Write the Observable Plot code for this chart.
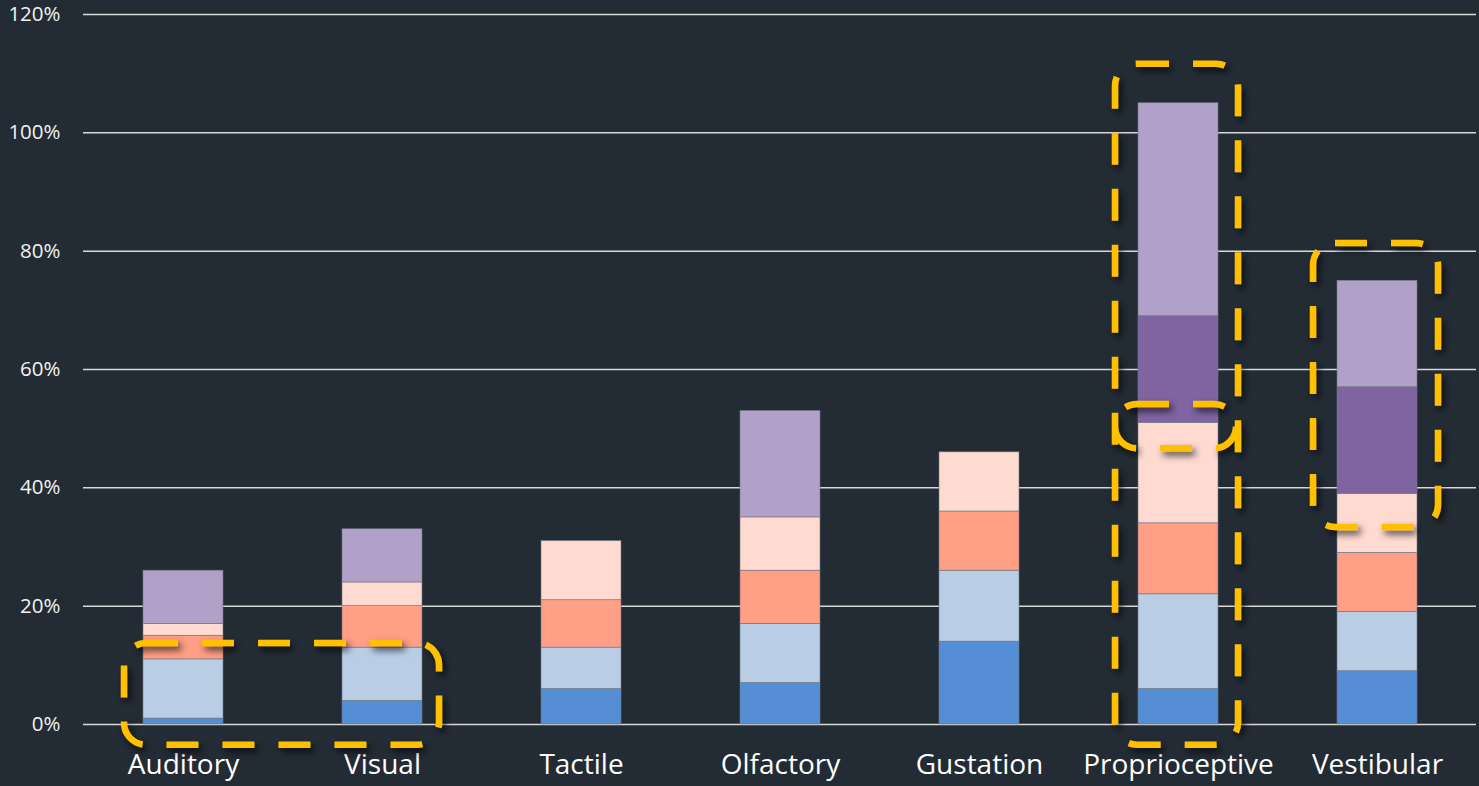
<!DOCTYPE html>
<html><head><meta charset="utf-8">
<script src="https://cdn.jsdelivr.net/npm/d3@7"></script>
<script src="https://cdn.jsdelivr.net/npm/@observablehq/plot@0.6"></script>
<style>
html,body{margin:0;padding:0;background:#232b34;overflow:hidden;}
</style></head><body><div id="chart"></div>
<script>
const categories = ["Auditory","Visual","Tactile","Olfactory","Gustation","Proprioceptive","Vestibular"];
const seriesNames = ["Series 1","Series 2","Series 3","Series 4","Series 5","Series 6"];
const series1 = [1, 4, 6, 7, 14, 6, 9];
const series2 = [10, 9, 7, 10, 12, 16, 10];
const series3 = [4, 7, 8, 9, 10, 12, 10];
const series4 = [2, 4, 10, 9, 10, 17, 10];
const series5 = [0, 0, 0, 0, 0, 18, 18];
const series6 = [9, 9, 0, 18, 0, 36, 18];
const yTicks = [0, 20, 40, 60, 80, 100, 120];
// highlight boxes (data units: categories and % values)
const highlightFrom = ["Auditory", "Proprioceptive", "Proprioceptive", "Vestibular"];
const highlightTo = ["Visual", "Proprioceptive", "Proprioceptive", "Vestibular"];
const highlightTop = [13.7, 111.6, 54.1, 81.3];
const highlightBottom = [-3.5, -3.5, 46.6, 33.3];

const colors = ["#558ed5","#b9cde5","#ff9f85","#fedad1","#8064a2","#b1a0c7"];
const seriesValues = [series1, series2, series3, series4, series5, series6];
const rows = [];
seriesNames.forEach((s, i) => categories.forEach((c, j) => {
  if (seriesValues[i][j] > 0) rows.push({category: c, series: s, value: seriesValues[i][j]});
}));

const chart = Plot.plot({
  width: 1479, height: 786,
  marginLeft: 83, marginRight: 3, marginTop: 14, marginBottom: 62,
  style: {background: "#232b34", color: "#ffffff", fontFamily: "'Open Sans', Lato, sans-serif"},
  x: {domain: categories, paddingInner: 0.6, paddingOuter: 0.3, label: null},
  y: {domain: [0, 120], label: null},
  color: {domain: seriesNames, range: colors},
  marks: [
    Plot.ruleY(yTicks, {stroke: "#d9d9d9", strokeWidth: 1.5}),
    Plot.barY(rows, {x: "category", y: "value", fill: "series", stroke: "#6f7884", strokeWidth: 0.6}),
    Plot.axisY({ticks: yTicks, tickFormat: d => d + "%", tickSize: 0, tickPadding: 23, fontSize: 20.5, label: null, fill: "#f2f2f2"}),
    Plot.axisX({tickSize: 0, tickPadding: 30, fontSize: 28, label: null, fill: "#ffffff"})
  ]
});
document.getElementById("chart").appendChild(chart);

const xs = chart.scale("x"), ys = chart.scale("y");
const bw = xs.bandwidth;
const svg = d3.select(chart);
svg.append("defs").append("filter").attr("id", "shadow")
  .attr("x", "-20%").attr("y", "-20%").attr("width", "140%").attr("height", "140%")
  .append("feDropShadow").attr("dx", 3).attr("dy", 4).attr("stdDeviation", 3.5)
  .attr("flood-color", "#000").attr("flood-opacity", 0.7);
const padL = [19, 23, 23, 24], padR = [17, 20, 18, 21];
const g = svg.append("g").attr("filter", "url(#shadow)");
highlightFrom.forEach((f, i) => {
  const x1 = xs.apply(f) - padL[i];
  const x2 = xs.apply(highlightTo[i]) + bw + padR[i];
  const y1 = ys.apply(highlightTop[i]);
  const y2 = ys.apply(highlightBottom[i]);
  g.append("rect").attr("x", x1).attr("y", y1).attr("width", x2 - x1).attr("height", y2 - y1)
    .attr("rx", 22).attr("ry", 22)
    .attr("fill", "none").attr("stroke", "#ffc000").attr("stroke-width", 6.5)
    .attr("stroke-dasharray", "32 24");
});
</script></body></html>
